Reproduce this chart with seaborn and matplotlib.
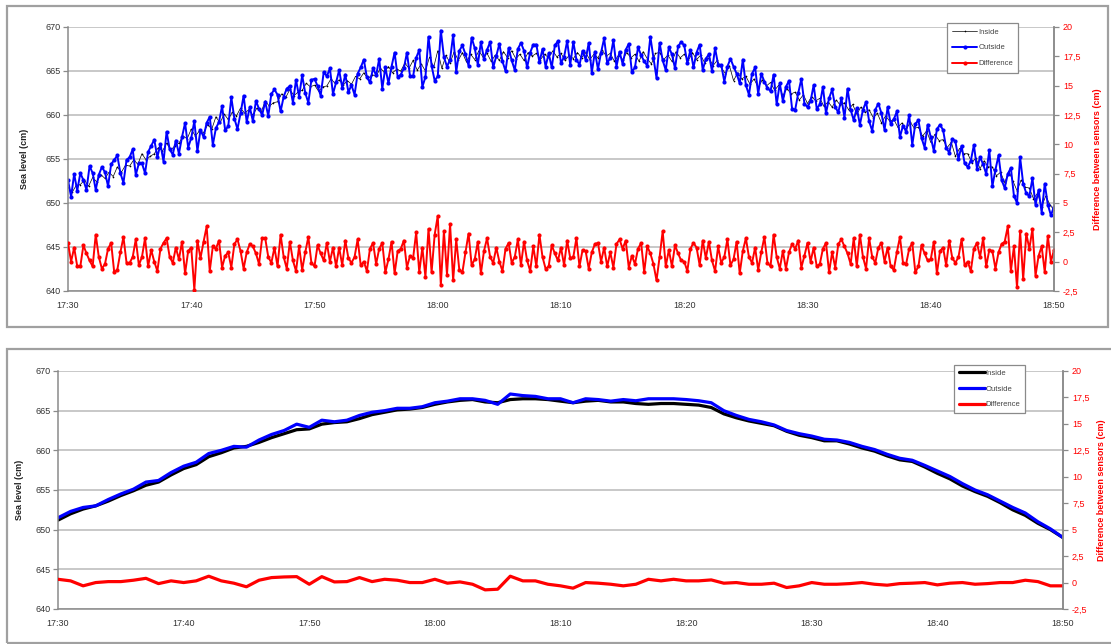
import numpy as np
import pandas as pd
import matplotlib
matplotlib.use("Agg")
import matplotlib.pyplot as plt
import matplotlib.dates as mdates
import seaborn as sns

# raw inside sensor, every 20 s from 17:30 to 18:50 (cm)
inside_raw = [
    651.8, 651.2, 652.0, 652.1, 652.6, 651.9, 652.9, 652.4, 653.2, 652.8, 653.5, 653.0,
    654.1, 653.5, 654.3, 654.2, 654.9, 654.4, 655.6, 654.9, 655.3, 655.6, 656.3, 655.9,
    656.8, 656.0, 656.5, 656.8, 657.6, 657.3, 658.4, 657.6, 658.2, 658.0, 658.9, 658.4,
    659.8, 659.1, 660.1, 659.5, 660.3, 659.9, 660.8, 660.2, 660.6, 660.0, 660.8, 660.3,
    661.6, 661.0, 661.4, 661.5, 662.4, 662.0, 662.9, 662.2, 662.6, 662.8, 663.6, 663.2,
    663.4, 662.7, 663.2, 663.3, 664.1, 663.6, 664.0, 663.4, 663.9, 663.5, 664.4, 664.1,
    664.8, 664.1, 664.6, 664.4, 665.3, 664.9, 665.5, 664.8, 665.2, 665.0, 665.9, 665.3,
    666.2, 665.1, 665.8, 665.0, 666.6, 665.4, 667.3, 665.3, 666.8, 665.9, 667.2, 666.2,
    667.1, 666.0, 666.9, 666.3, 667.3, 666.6, 667.0, 666.1, 666.8, 666.2, 667.2, 666.5,
    667.3, 666.4, 666.9, 666.2, 667.1, 666.7, 667.0, 666.3, 666.9, 666.5, 667.3, 666.6,
    667.0, 666.2, 666.8, 666.4, 667.1, 666.5, 667.1, 666.3, 666.9, 666.5, 667.4, 666.7,
    667.0, 666.1, 666.8, 666.3, 667.1, 666.5, 666.9, 666.1, 667.2, 666.4, 665.8, 667.0,
    667.1, 666.3, 666.8, 666.1, 667.2, 666.5, 666.9, 666.2, 667.1, 666.3, 666.8, 665.9,
    666.5, 665.6, 666.2, 665.4, 664.7, 665.6, 663.9, 664.8, 664.1, 664.4, 663.5, 664.1,
    663.1, 664.0, 663.3, 663.7, 662.8, 663.4, 662.2, 663.0, 662.4, 662.6, 661.7, 662.3,
    661.3, 662.1, 661.6, 661.9, 661.0, 661.5, 660.9, 661.7, 661.1, 661.4, 660.6, 661.2,
    660.1, 660.9, 660.3, 660.6, 659.7, 660.2, 659.1, 659.9, 659.3, 659.5, 658.6, 659.1,
    658.3, 659.2, 658.5, 658.6, 657.6, 658.2, 656.9, 657.8, 657.1, 657.2, 656.3, 656.9,
    655.3, 656.2, 655.6, 655.6, 654.6, 655.1, 653.9, 654.8, 654.1, 654.1, 653.1, 653.5,
    652.3, 653.6, 652.5, 651.4, 652.6, 651.8, 651.7, 650.5, 651.1, 649.6, 650.8, 649.8,
    649.2,
]
# raw outside sensor and difference, every 15 s
outside_raw = [
    652.6, 650.7, 653.3, 651.4, 653.4, 652.6, 651.5, 654.2, 653.4, 651.5, 653.2, 654.1,
    653.5, 651.9, 654.4, 654.9, 655.4, 653.4, 652.3, 654.9, 655.2, 656.1, 653.2, 654.5,
    654.5, 653.4, 655.8, 656.5, 657.2, 655.2, 656.7, 654.7, 658.1, 656.1, 655.5, 657.1,
    655.6, 657.5, 659.1, 656.3, 657.4, 659.3, 655.9, 658.3, 657.5, 659.1, 659.8, 656.6,
    658.5, 659.2, 661.0, 658.3, 658.7, 662.0, 659.6, 658.4, 660.2, 662.2, 659.2, 660.9,
    659.3, 661.6, 660.7, 660.0, 661.5, 659.9, 662.4, 662.9, 662.3, 660.4, 662.1, 663.0,
    663.3, 661.4, 664.0, 662.1, 664.5, 662.5, 661.4, 664.0, 664.1, 663.3, 662.2, 664.9,
    664.4, 665.3, 662.4, 663.7, 665.1, 663.1, 664.6, 662.6, 663.4, 662.3, 664.7, 665.4,
    666.3, 664.3, 663.7, 665.3, 664.5, 666.4, 663.0, 665.4, 663.6, 665.5, 667.1, 664.3,
    664.6, 665.3, 667.1, 664.4, 664.4, 666.5, 667.4, 663.2, 664.3, 668.9, 665.6, 663.9,
    664.4, 669.6, 666.6, 665.5, 666.3, 669.1, 664.9, 667.3, 667.9, 666.9, 665.6, 668.8,
    667.6, 665.7, 668.3, 666.4, 667.4, 668.3, 665.4, 666.7, 668.1, 666.1, 665.0, 667.6,
    666.2, 665.1, 667.5, 668.2, 667.3, 665.4, 667.1, 668.0, 668.0, 666.0, 667.5, 665.5,
    667.0, 665.4, 667.9, 668.4, 665.9, 666.6, 668.4, 665.7, 668.3, 666.3, 665.7, 667.3,
    666.3, 668.2, 664.8, 667.2, 665.2, 667.1, 668.7, 665.9, 666.5, 668.5, 665.5, 667.2,
    665.8, 667.4, 668.1, 664.9, 665.4, 667.7, 666.8, 666.1, 665.6, 668.9, 666.5, 664.2,
    668.2, 666.2, 665.1, 667.7, 666.9, 665.3, 667.8, 668.3, 667.9, 665.9, 667.4, 665.4,
    667.1, 668.0, 665.1, 666.4, 666.9, 665.0, 667.6, 665.7, 665.7, 663.8, 665.5, 666.4,
    665.5, 664.7, 663.6, 666.3, 663.4, 662.3, 664.7, 665.4, 662.4, 664.7, 663.8, 663.1,
    662.7, 664.6, 661.2, 663.6, 661.6, 663.2, 663.9, 660.7, 660.6, 662.5, 664.1, 661.3,
    660.9, 661.6, 663.4, 660.7, 661.2, 663.2, 660.2, 661.9, 662.9, 660.9, 660.3, 661.9,
    659.7, 663.0, 660.6, 659.4, 660.8, 658.9, 660.6, 661.5, 659.3, 658.2, 660.6, 661.3,
    660.2, 658.3, 660.9, 659.0, 659.5, 660.4, 657.5, 658.8, 658.1, 660.0, 656.6, 659.0,
    659.4, 657.4, 656.3, 658.9, 657.5, 655.9, 658.4, 658.9, 658.3, 656.3, 655.7, 657.3,
    657.0, 655.0, 656.5, 654.5, 654.1, 654.8, 656.6, 653.9, 655.2, 654.4, 653.3, 656.0,
    651.9, 653.8, 655.4, 652.6, 651.7, 653.3, 654.0, 650.8, 650.0, 655.2, 652.2, 651.1,
    650.8, 652.8, 649.8, 651.5, 648.9, 652.2, 649.8, 648.6,
    649.6,
]
difference_raw = [
    1.6, 0.0, 1.2, -0.4, -0.4, 1.4, 0.7, 0.1, -0.4, 2.3, 0.4, -0.6,
    -0.2, 1.1, 1.6, -0.9, -0.7, 0.8, 2.1, -0.1, -0.1, 0.4, 1.9, -0.3,
    0.4, 2.0, -0.4, 1.0, 0.0, -0.8, 1.1, 1.6, 2.0, 0.4, -0.1, 1.2,
    0.2, 1.7, -1.0, 0.9, 1.2, -2.4, 1.8, 0.3, 1.7, 3.0, -0.8, 1.3,
    1.1, 1.8, -0.5, 0.5, 0.8, -0.5, 1.5, 1.9, 0.9, -0.6, 0.8, 1.5,
    1.3, 0.7, -0.2, 2.0, 2.0, 0.4, -0.1, 1.2, -0.4, 2.3, 0.4, -0.6,
    1.7, 0.1, -0.8, 1.3, -0.7, 0.8, 2.1, -0.1, -0.4, 1.4, 0.7, 0.1,
    1.6, 0.0, 1.2, -0.4, 1.2, -0.3, 1.8, 0.3, -0.1, 0.4, 1.9, -0.3,
    0.0, -0.8, 1.1, 1.6, -0.2, 1.1, 1.6, -0.9, 0.2, 1.7, -1.0, 0.9,
    1.1, 1.8, -0.5, 0.5, 0.3, 2.5, -0.9, 1.2, -1.3, 2.8, -0.9, 2.3,
    3.9, -2.0, 2.6, -1.1, 3.2, -1.6, 1.9, -0.7, -0.9, 0.8, 2.4, -0.3,
    0.2, 1.7, -1.0, 0.9, 2.0, 0.4, -0.1, 1.2, 0.0, -0.8, 1.1, 1.6,
    -0.1, 0.4, 1.9, -0.3, 1.7, 0.1, -0.8, 1.3, -0.4, 2.3, 0.4, -0.6,
    -0.4, 1.4, 0.7, 0.1, 1.2, -0.3, 1.8, 0.3, 0.4, 2.0, -0.4, 1.0,
    0.9, -0.6, 0.8, 1.5, 1.6, 0.0, 1.2, -0.4, 0.8, -0.5, 1.5, 1.9,
    1.1, 1.8, -0.5, 0.5, -0.2, 1.1, 1.6, -0.9, 1.3, 0.7, -0.2, -1.6,
    0.4, 2.6, -0.4, 1.0, -0.4, 1.4, 0.7, 0.1, 0.0, -0.8, 1.1, 1.6,
    1.2, -0.3, 1.8, 0.3, 1.7, 0.1, -0.8, 1.3, -0.1, 0.4, 1.9, -0.3,
    0.2, 1.7, -1.0, 0.9, 2.0, 0.4, -0.1, 1.2, -0.7, 0.8, 2.1, -0.1,
    -0.4, 2.3, 0.4, -0.6, 0.9, -0.6, 0.8, 1.5, 1.1, 1.8, -0.5, 0.5,
    1.6, 0.0, 1.2, -0.4, -0.2, 1.1, 1.6, -0.9, 0.8, -0.5, 1.5, 1.9,
    1.3, 0.7, -0.2, 2.0, -0.4, 2.3, 0.4, -0.6, 2.0, 0.4, -0.1, 1.2,
    1.6, 0.0, 1.2, -0.4, -0.7, 0.8, 2.1, -0.1, -0.2, 1.1, 1.6, -0.9,
    -0.4, 1.4, 0.7, 0.1, 0.2, 1.7, -1.0, 0.9, 1.2, -0.3, 1.8, 0.3,
    -0.1, 0.4, 1.9, -0.3, 0.0, -0.8, 1.1, 1.6, 0.4, 2.0, -0.4, 1.0,
    0.9, -0.6, 0.8, 1.5, 1.7, 3.0, -0.8, 1.3, -2.2, 2.6, -1.5, 2.4,
    1.1, 2.8, -1.2, 0.5, 1.3, -0.9, 2.2, 0.0,
    1.0,
]

# filtered, one value per minute
inside_avg = [
    651.2, 652.0, 652.6, 653.0, 653.6, 654.3, 654.9, 655.6, 656.0, 656.9,
    657.7, 658.2, 659.2, 659.7, 660.3, 660.5, 661.0, 661.6, 662.1, 662.6,
    662.7, 663.3, 663.5, 663.6, 664.0, 664.5, 664.8, 665.1, 665.2, 665.4,
    665.8, 666.1, 666.3, 666.4, 666.1, 666.0, 666.4, 666.5, 666.5, 666.4,
    666.2, 666.0, 666.2, 666.3, 666.1, 666.1, 665.9, 665.8, 665.9, 665.9,
    665.8, 665.7, 665.4, 664.6, 664.1, 663.7, 663.4, 663.1, 662.4, 661.9,
    661.6, 661.2, 661.2, 660.8, 660.3, 659.9, 659.3, 658.8, 658.6, 657.9,
    657.1, 656.4, 655.5, 654.8, 654.2, 653.4, 652.5, 651.8, 650.8, 650.0,
    649.0,
]
outside_avg = [
    651.5, 652.3, 652.8, 653.0, 653.8, 654.5, 655.1, 656.0, 656.2, 657.2,
    658.0, 658.5, 659.6, 660.0, 660.5, 660.4, 661.3, 662.0, 662.5, 663.3,
    662.9, 663.8, 663.6, 663.8, 664.4, 664.8, 665.0, 665.3, 665.3, 665.5,
    666.0, 666.2, 666.5, 666.5, 666.3, 665.8, 667.1, 666.9, 666.8, 666.5,
    666.5, 666.0, 666.5, 666.4, 666.2, 666.4, 666.25, 666.5, 666.5, 666.5,
    666.4, 666.25, 666.0, 665.0, 664.4, 663.9, 663.6, 663.2, 662.5, 662.1,
    661.8, 661.4, 661.3, 661.0, 660.5, 660.1, 659.5, 659.0, 658.75, 658.1,
    657.4, 656.7, 655.8, 655.0, 654.4, 653.6, 652.8, 652.1, 651.0, 650.1,
    649.0,
]
difference_avg = [
    0.31, 0.16, -0.31, 0.0, 0.09, 0.09, 0.22, 0.4, -0.1, 0.16,
    0.0, 0.16, 0.6, 0.16, -0.06, -0.4, 0.22, 0.47, 0.53, 0.56,
    -0.16, 0.56, 0.06, 0.09, 0.47, 0.09, 0.31, 0.22, 0.0, 0.0,
    0.31, -0.06, 0.06, -0.16, -0.69, -0.63, 0.6, 0.16, 0.16, -0.16,
    -0.31, -0.53, 0.0, -0.06, -0.16, -0.31, -0.16, 0.31, 0.16, 0.31,
    0.16, 0.16, 0.25, -0.06, 0.0, -0.16, -0.16, -0.06, -0.47, -0.31,
    0.0, -0.16, -0.16, -0.1, 0.0, -0.16, -0.25, -0.1, -0.06, 0.0,
    -0.22, -0.06, 0.0, -0.16, -0.1, 0.0, 0.0, 0.22, 0.09, -0.31,
    -0.31,
]

series_names = ["Inside", "Outside", "Difference"]
level_ticks = [640, 645, 650, 655, 660, 665, 670]
diff_ticks = [-2.5, 0, 2.5, 5, 7.5, 10, 12.5, 15, 17.5, 20]
diff_ticklabels = ["-2,5", "0", "2,5", "5", "7,5", "10", "12,5", "15", "17,5", "20"]

t_20s = pd.date_range("2000-01-01 17:30", "2000-01-01 18:50", freq="20s")
t_15s = pd.date_range("2000-01-01 17:30", "2000-01-01 18:50", freq="15s")
t_1min = pd.date_range("2000-01-01 17:30", "2000-01-01 18:50", freq="1min")

sns.set_style("white")
plt.rcParams["font.family"] = ["Liberation Sans", "DejaVu Sans"]

W, H = 1111, 644
fig = plt.figure(figsize=(W / 100, H / 100), dpi=100)

GRID = "#b9b9b9"
SPINE = "#8a8a8a"


def frame(x0, y0, x1, y1):
    fig.add_artist(plt.Rectangle((x0 / W, 1 - y1 / H), (x1 - x0) / W, (y1 - y0) / H,
                                 transform=fig.transFigure, fill=False,
                                 ec="#a0a0a0", lw=1.6, clip_on=False))


def panel(box, t_in, inside, t_out, outside, t_diff, diff, styles,
          ylab_x, rlab_x, leg_xy, leg_kw):
    x0, y0, x1, y1 = box
    ax = fig.add_axes([x0 / W, 1 - y1 / H, (x1 - x0) / W, (y1 - y0) / H])
    base = dict(estimator=None, mew=0, legend=False)
    sns.lineplot(x=t_in, y=inside, ax=ax, color="black", **base, **styles[0])
    sns.lineplot(x=t_out, y=outside, ax=ax, color="#0000ff", **base, **styles[1])
    ax.set_xlim(t_1min[0], t_1min[-1])
    ax.set_ylim(640, 670)
    ax.set_yticks(level_ticks)
    ax.yaxis.grid(True, color=GRID, lw=1.1)
    ax.xaxis.grid(False)
    ax.set_axisbelow(True)
    ax.xaxis.set_major_locator(mdates.MinuteLocator(byminute=range(0, 60, 10)))
    ax.xaxis.set_major_formatter(mdates.DateFormatter("%H:%M"))
    ax.tick_params(direction="out", length=3.5, width=0.9, color=SPINE,
                   labelsize=6.5, labelcolor="#333333", pad=2)
    ax.tick_params(axis="x", pad=4)
    ax.set_ylabel("Sea level (cm)", fontsize=6.5, fontweight="bold", color="#222222")
    ax.yaxis.set_label_coords(ylab_x, 0.5)
    ax.set_xlabel("")
    for s in ["left", "bottom", "right"]:
        ax.spines[s].set_color(SPINE)
        ax.spines[s].set_linewidth(1.1)
    ax.spines["top"].set_visible(False)

    ax2 = ax.twinx()
    sns.lineplot(x=t_diff, y=diff, ax=ax2, color="#ff0000", **base, **styles[2])
    ax2.set_ylim(-2.5, 20)
    ax2.set_yticks(diff_ticks)
    ax2.set_yticklabels(diff_ticklabels)
    ax2.tick_params(direction="out", length=3.5, width=0.9, color=SPINE,
                    labelsize=6.5, labelcolor="#ff0000", pad=3)
    ax2.set_ylabel("Difference between sensors (cm)", fontsize=6.5,
                   fontweight="bold", color="#ff0000", rotation=90)
    ax2.yaxis.set_label_coords(rlab_x, 0.5)
    for s in ["left", "bottom", "top"]:
        ax2.spines[s].set_visible(False)
    ax2.spines["right"].set_color(SPINE)
    ax2.spines["right"].set_linewidth(1.1)

    handles = [ax.lines[0], ax.lines[1], ax2.lines[0]]
    leg = ax2.legend(handles, series_names, loc="upper left",
                     bbox_to_anchor=(leg_xy[0] / W, 1 - leg_xy[1] / H),
                     bbox_transform=fig.transFigure, fontsize=5.5, frameon=True,
                     fancybox=False, edgecolor="#8a8a8a", framealpha=1,
                     borderaxespad=0, **leg_kw)
    leg.get_frame().set_linewidth(0.9)
    for txt in leg.get_texts():
        txt.set_color("#444444")
    return ax, ax2


frame(7, 6, 1108, 327)
frame(7, 349, 1125, 643)

raw_styles = [dict(lw=0.5, marker="o", ms=1.2),
              dict(lw=1.4, marker="o", ms=3.0),
              dict(lw=1.4, marker="o", ms=3.0)]
avg_styles = [dict(lw=2.3), dict(lw=2.3), dict(lw=2.3)]

panel((68, 27, 1054, 291), t_20s, inside_raw, t_15s, outside_raw, t_15s, difference_raw,
      raw_styles, -0.040, 1.040, (947, 23),
      dict(handlelength=3.2, labelspacing=1.1, borderpad=0.7, handletextpad=0.2))
panel((58, 371, 1063, 609), t_1min, inside_avg, t_1min, outside_avg, t_1min, difference_avg,
      avg_styles, -0.034, 1.034, (954, 365),
      dict(handlelength=3.4, labelspacing=1.1, borderpad=0.6, handletextpad=0.1))

fig.savefig("out.png", dpi=100)
